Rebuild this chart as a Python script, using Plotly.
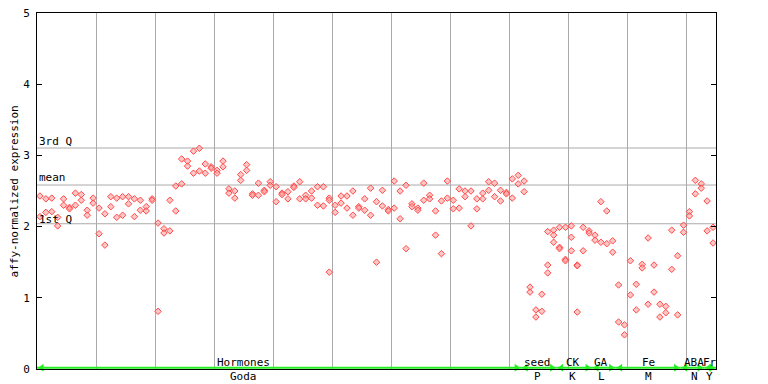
import plotly.graph_objects as go

# ---------------- data ----------------
rep1 = [2.43, 2.39, 2.40, 2.13, 2.39, 2.27, 2.47, 2.45, 2.23, 2.40,
        2.26, 2.18, 2.42, 2.40, 2.42, 2.42, 2.39, 2.37, 2.28, 2.39,
        2.05, 1.97, 2.37, 2.57, 2.60, 2.92, 2.75, 3.10, 2.88, 2.84,
        2.79, 2.92, 2.53, 2.50, 2.73, 2.87, 2.46, 2.61, 2.51, 2.63,
        2.56, 2.47, 2.49, 2.57, 2.63, 2.44, 2.50, 2.56, 2.56, 2.40,
        2.30, 2.43, 2.43, 2.50, 2.28, 2.39, 2.54, 2.35, 2.51, 2.24,
        2.64, 2.50, 2.58, 2.32, 2.26, 2.61, 2.44, 2.22, 2.36, 2.64,
        2.37, 2.53, 2.50, 2.50, 2.39, 2.47, 2.63, 2.61, 2.51, 2.48,
        2.67, 2.72, 2.64, 1.15, 0.83, 1.05, 1.93, 1.95, 1.99, 1.99,
        2.01, 1.46, 1.99, 1.94, 1.88, 2.35, 2.22, 1.80, 1.18, 0.62,
        1.52, 1.19, 1.47, 1.84, 1.46, 0.91, 0.88, 1.95, 1.59, 2.02,
        2.21, 2.65, 2.60, 2.36, 1.99]
rep2 = [2.14, 2.20, 2.21, 2.01, 2.30, 2.25, 2.30, 2.37, 2.16, 2.33,
        1.90, 1.74, 2.28, 2.13, 2.16, 2.32, 2.14, 2.23, 2.22, 2.37,
        0.81, 1.91, 1.94, 2.22, 2.95, 2.85, 3.06, 2.78, 2.75, 2.82,
        2.75, 2.84, 2.47, 2.40, 2.65, 2.79, 2.44, 2.44, 2.49, 2.58,
        2.35, 2.45, 2.39, 2.55, 2.39, 2.39, 2.40, 2.30, 2.29, 2.37,
        2.20, 2.33, 2.26, 2.16, 2.26, 2.23, 2.16, 1.50, 2.29, 2.22,
        2.26, 2.11, 1.69, 2.28, 2.23, 2.37, 2.39, 1.88, 1.62, 2.40,
        2.25, 2.26, 2.42, 2.01, 2.25, 2.39, 2.51, 2.42, 2.36, 2.46,
        2.40, 2.60, 2.49, 1.08, 0.73, 0.81, 1.46, 1.88, 1.71, 1.54,
        1.85, 0.80, 1.66, 1.91, 1.81, 1.78, 1.76, 1.64, 0.66, 0.48,
        1.04, 0.83, 1.42, 0.91, 1.08, 0.73, 0.79, 1.40, 0.76, 1.92,
        2.15, 2.46, 2.54, 1.94, 1.77]
# third replicate (only some samples)
rep3 = {49: 1.36, 86: 1.35, 87: 1.78, 88: 1.69, 89: 1.52, 90: 1.66, 91: 1.45}

q3_value = 3.104
mean_value = 2.584
q1_value = 2.04

# experiment groups
group_upper = ["Hormones", "seed", "CK", "GA", "Fe", "ABA", "Fr"]
group_lower = ["Goda", "P", "K", "L", "M", "N", "Y"]
group_start = [0, 82, 88, 94, 98, 109, 113]
group_end = [82, 88, 94, 98, 109, 113, 115]
label_pos = [35.0, 84.7, 90.7, 95.6, 103.5, 111.3, 113.9]

n = len(rep1)
xs, ys = [], []
for i in range(n):
    xs += [i + 0.5, i + 0.5]
    ys += [rep1[i], rep2[i]]
for i, v in rep3.items():
    xs.append(i + 0.5)
    ys.append(v)

FONT = "DejaVu Sans Mono"
RED = "#ff4a4a"
GREEN = "#22ee22"

fig = go.Figure()
fig.add_trace(go.Scatter(
    x=xs, y=ys, mode="markers",
    marker=dict(symbol="diamond", size=5, color="rgba(255,160,160,0.6)",
                line=dict(color=RED, width=1)),
    hoverinfo="y", showlegend=False))

shapes = []
for v in (q3_value, mean_value, q1_value):
    shapes.append(dict(type="line", xref="x", yref="y", x0=0, x1=n, y0=v, y1=v,
                       line=dict(color="#aaaaaa", width=1), layer="below"))

ax, ay, asym = [], [], []
for s, e in zip(group_start, group_end):
    shapes.append(dict(type="line", xref="x", yref="y", x0=s, x1=e, y0=0.018, y1=0.018,
                       line=dict(color=GREEN, width=2), layer="above"))
    ax += [s + 0.8, e - 0.8]
    ay += [0.018, 0.018]
    asym += ["triangle-left", "triangle-right"]

fig.add_trace(go.Scatter(x=ax, y=ay, mode="markers", cliponaxis=False,
                         marker=dict(symbol=asym, size=7, color=GREEN),
                         hoverinfo="skip", showlegend=False))

annotations = []
for txt, v, sh in (("3rd Q", q3_value, 6.6), ("mean", mean_value, 7.6), ("1st Q", q1_value, 4.7)):
    annotations.append(dict(text=txt, x=0, y=v, xref="x", yref="y", xanchor="left",
                            yanchor="middle", yshift=sh, showarrow=False,
                            font=dict(family=FONT, size=11, color="black")))
for up, lo, p in zip(group_upper, group_lower, label_pos):
    annotations.append(dict(text=up, x=p, y=0, xref="x", yref="y", xanchor="center",
                            yanchor="middle", yshift=7, showarrow=False,
                            font=dict(family=FONT, size=11, color="black")))
    annotations.append(dict(text=lo, x=p, y=0, xref="x", yref="y", xanchor="center",
                            yanchor="middle", yshift=-7, showarrow=False,
                            font=dict(family=FONT, size=11, color="black")))
annotations.append(dict(text="affy-normalized expression", x=-0.0332, y=0.5,
                        xref="paper", yref="paper", textangle=-90, showarrow=False,
                        xanchor="center", yanchor="middle", borderpad=0,
                        font=dict(family=FONT, size=11, color="black")))

# page body adds an 8px offset: figure drawn 8px smaller with shifted margins
fig.update_layout(
    width=760, height=376, autosize=False,
    margin=dict(l=29, r=52, t=5, b=15, autoexpand=False),
    paper_bgcolor="white", plot_bgcolor="white",
    font=dict(family=FONT, size=11, color="black"),
    shapes=shapes, annotations=annotations,
    xaxis=dict(range=[0, n], showgrid=True, gridcolor="#aaaaaa", gridwidth=1,
               tick0=0, dtick=10, showticklabels=False, ticks="",
               showline=True, linecolor="black", linewidth=1, mirror=True,
               zeroline=False, fixedrange=True, automargin=False),
    yaxis=dict(range=[0, 5], showgrid=False, tickvals=[0, 1, 2, 3, 4, 5],
               ticks="inside", ticklen=5, tickcolor="black", tickwidth=1,
               ticklabelstandoff=4, automargin=False, ticklabeloverflow="allow",
               showline=True, linecolor="black", linewidth=1, mirror="ticks",
               zeroline=False, fixedrange=True,
               tickfont=dict(family=FONT, size=11, color="black")),
)

fig.write_html("out.html")
